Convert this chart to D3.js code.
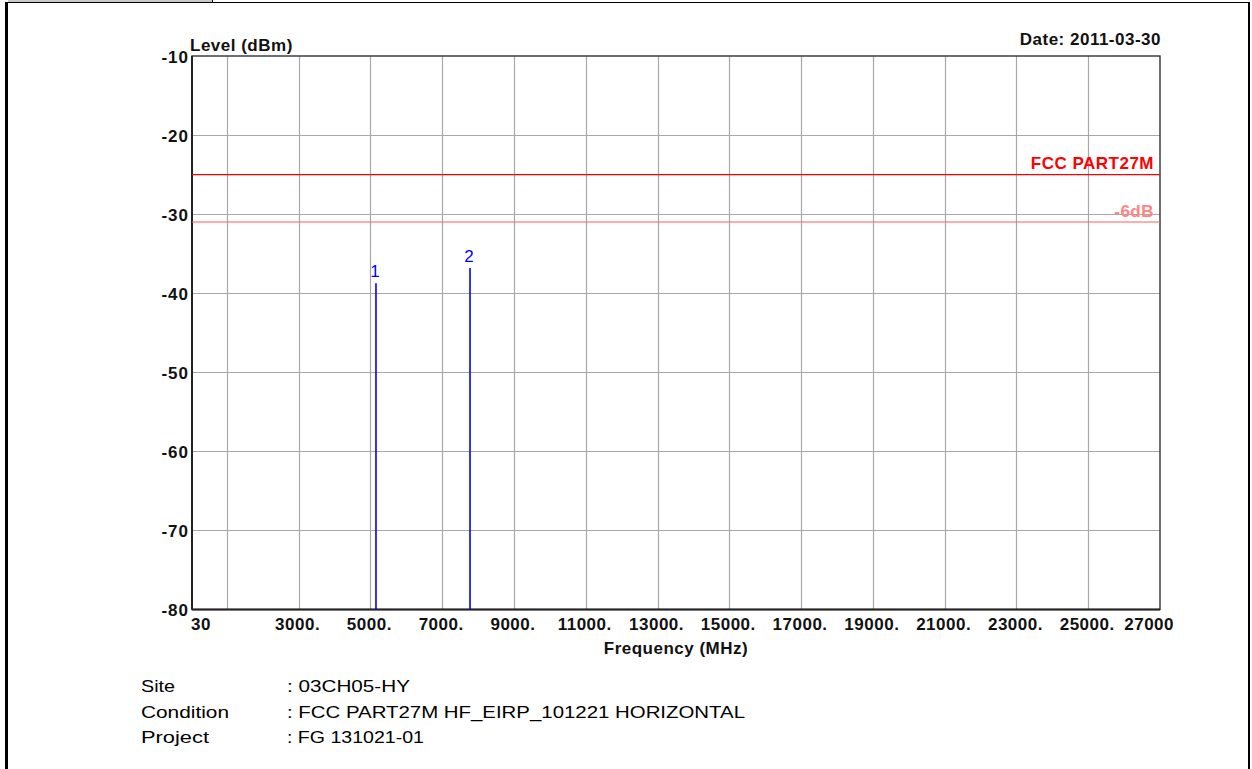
<!DOCTYPE html>
<html>
<head>
<meta charset="utf-8">
<script src="https://cdn.jsdelivr.net/npm/d3@7"></script>
<style>
  html, body { margin: 0; padding: 0; background: #fff; }
  svg { display: block; }
  .bold { font-family: "Liberation Sans", Arial, sans-serif; font-weight: bold; font-size: 17px; letter-spacing: 0.5px; fill: #111; }
  .info { font-family: "Liberation Sans", Arial, sans-serif; font-size: 17px; fill: #000; }
</style>
</head>
<body>
<svg id="chart" width="1252" height="769"></svg>
<script>
// Emission peaks (frequency in MHz, level in dBm)
const peakIds = ["1", "2"];
const peakFreqs = [5156, 7776];
const peakLevels = [-38.75, -36.8];

// Limit lines
const limitNames = ["FCC PART27M", "-6dB"];
const limitLevels = [-25, -31];

// Axis ticks
const xGridValues = [1000, 3000, 5000, 7000, 9000, 11000, 13000, 15000, 17000, 19000, 21000, 23000, 25000];
const xTickValues = [3000, 5000, 7000, 9000, 11000, 13000, 15000, 17000, 19000, 21000, 23000, 25000];
const xTickLabels = ["3000.", "5000.", "7000.", "9000.", "11000.", "13000.", "15000.", "17000.", "19000.", "21000.", "23000.", "25000."];
const xMinLabel = "30";
const xMaxLabel = "27000";
const yTickValues = [-10, -20, -30, -40, -50, -60, -70, -80];

// Header / footer text
const yTitle = "Level (dBm)";
const xTitle = "Frequency (MHz)";
const dateText = "Date: 2011-03-30";
const infoKeys = ["Site", "Condition", "Project"];
const infoValues = [": 03CH05-HY", ": FCC PART27M HF_EIRP_101221 HORIZONTAL", ": FG 131021-01"];

const svg = d3.select("#chart");

// Page frame
svg.append("rect").attr("x", 8).attr("y", 0).attr("width", 204).attr("height", 2).attr("fill", "#c8c8c8");
svg.append("line").attr("x1", 212.5).attr("x2", 212.5).attr("y1", 0).attr("y2", 3).attr("stroke", "#000");
svg.append("line").attr("x1", 5).attr("x2", 1250).attr("y1", 2.5).attr("y2", 2.5).attr("stroke", "#000").attr("stroke-width", 1.2);
svg.append("rect").attr("x", 5).attr("y", 2).attr("width", 3).attr("height", 767).attr("fill", "#000");
svg.append("rect").attr("x", 1248).attr("y", 2).attr("width", 2).attr("height", 767).attr("fill", "#000");

const x = d3.scaleLinear().domain([30, 27000]).range([192, 1160]);
const y = d3.scaleLinear().domain([-80, -10]).range([609.5, 56]);

// Grid
const grid = svg.append("g");
grid.selectAll("line.v").data(xGridValues).join("line")
  .attr("x1", d => Math.round(x(d)) + 0.5).attr("x2", d => Math.round(x(d)) + 0.5)
  .attr("y1", y(-10)).attr("y2", y(-80))
  .attr("stroke", "#a8a8a8").attr("stroke-width", 1.2);
grid.selectAll("line.h").data(yTickValues.filter(v => v > -80 && v < -10)).join("line")
  .attr("x1", x(30)).attr("x2", x(27000))
  .attr("y1", d => Math.round(y(d)) + 0.5).attr("y2", d => Math.round(y(d)) + 0.5)
  .attr("stroke", "#a8a8a8").attr("stroke-width", 1.2);

// Plot frame
svg.append("rect")
  .attr("x", x(30)).attr("y", y(-10))
  .attr("width", x(27000) - x(30)).attr("height", y(-80) - y(-10))
  .attr("fill", "none").attr("stroke", "#333").attr("stroke-width", 1.4);
svg.append("line").attr("x1", x(30)).attr("x2", x(30)).attr("y1", y(-10)).attr("y2", y(-80))
  .attr("stroke", "#222").attr("stroke-width", 2);
svg.append("line").attr("x1", x(30)).attr("x2", x(27000)).attr("y1", y(-80)).attr("y2", y(-80))
  .attr("stroke", "#222").attr("stroke-width", 2);

// Limit lines
const limitColors = ["#ff0000", "#ff5a5a"];
const labelColors = ["#ff0000", "#ff8484"];
const limitWidths = [1.4, 1.1];
limitLevels.forEach((lv, i) => {
  svg.append("line")
    .attr("x1", x(30)).attr("x2", x(27000))
    .attr("y1", y(lv)).attr("y2", y(lv))
    .attr("stroke", limitColors[i]).attr("stroke-width", limitWidths[i]);
  svg.append("text").attr("class", "bold")
    .attr("x", 1154).attr("y", y(lv) - 5.5)
    .attr("text-anchor", "end")
    .style("fill", labelColors[i])
    .text(limitNames[i]);
});

// Peak markers
peakFreqs.forEach((f, i) => {
  svg.append("line")
    .attr("x1", x(f)).attr("x2", x(f))
    .attr("y1", y(peakLevels[i])).attr("y2", y(-80))
    .attr("stroke", "#0000ff").attr("stroke-width", 1.6);
  svg.append("text")
    .attr("x", x(f) - 1).attr("y", y(peakLevels[i]) - 6)
    .attr("text-anchor", "middle")
    .attr("font-family", "Liberation Sans, Arial, sans-serif")
    .attr("font-size", 17)
    .attr("fill", "#0000ff")
    .text(peakIds[i]);
});

// Y tick labels
svg.selectAll("text.ytick").data(yTickValues).join("text")
  .attr("class", "bold")
  .style("letter-spacing", "1px")
  .attr("x", 189).attr("y", d => y(d) + 6.5)
  .attr("text-anchor", "end")
  .text(d => d);

// X tick labels
svg.selectAll("text.xtick").data(xTickValues).join("text")
  .attr("class", "bold")
  .attr("x", d => x(d) - 1).attr("y", 630)
  .attr("text-anchor", "middle")
  .text((d, i) => xTickLabels[i]);
svg.append("text").attr("class", "bold").attr("x", x(30) - 1).attr("y", 630).text(xMinLabel);
svg.append("text").attr("class", "bold").attr("x", 1174).attr("y", 630).attr("text-anchor", "end").text(xMaxLabel);

// Titles
svg.append("text").attr("class", "bold").attr("x", 190).attr("y", 51).text(yTitle);
svg.append("text").attr("class", "bold").attr("x", 1161).attr("y", 45).attr("text-anchor", "end").text(dateText);
svg.append("text").attr("class", "bold").attr("x", (x(30) + x(27000)) / 2).attr("y", 654).attr("text-anchor", "middle").text(xTitle);

// Footer information
const infoBase = [692, 718, 743];
const keyLengths = [34, 88, 68];
const valueLengths = [123, 458, 137];
infoKeys.forEach((k, i) => {
  svg.append("text").attr("class", "info")
    .attr("x", 141).attr("y", infoBase[i])
    .attr("textLength", keyLengths[i]).attr("lengthAdjust", "spacingAndGlyphs")
    .text(k);
  svg.append("text").attr("class", "info")
    .attr("x", 287).attr("y", infoBase[i])
    .attr("textLength", valueLengths[i]).attr("lengthAdjust", "spacingAndGlyphs")
    .text(infoValues[i]);
});
</script>
</body>
</html>
